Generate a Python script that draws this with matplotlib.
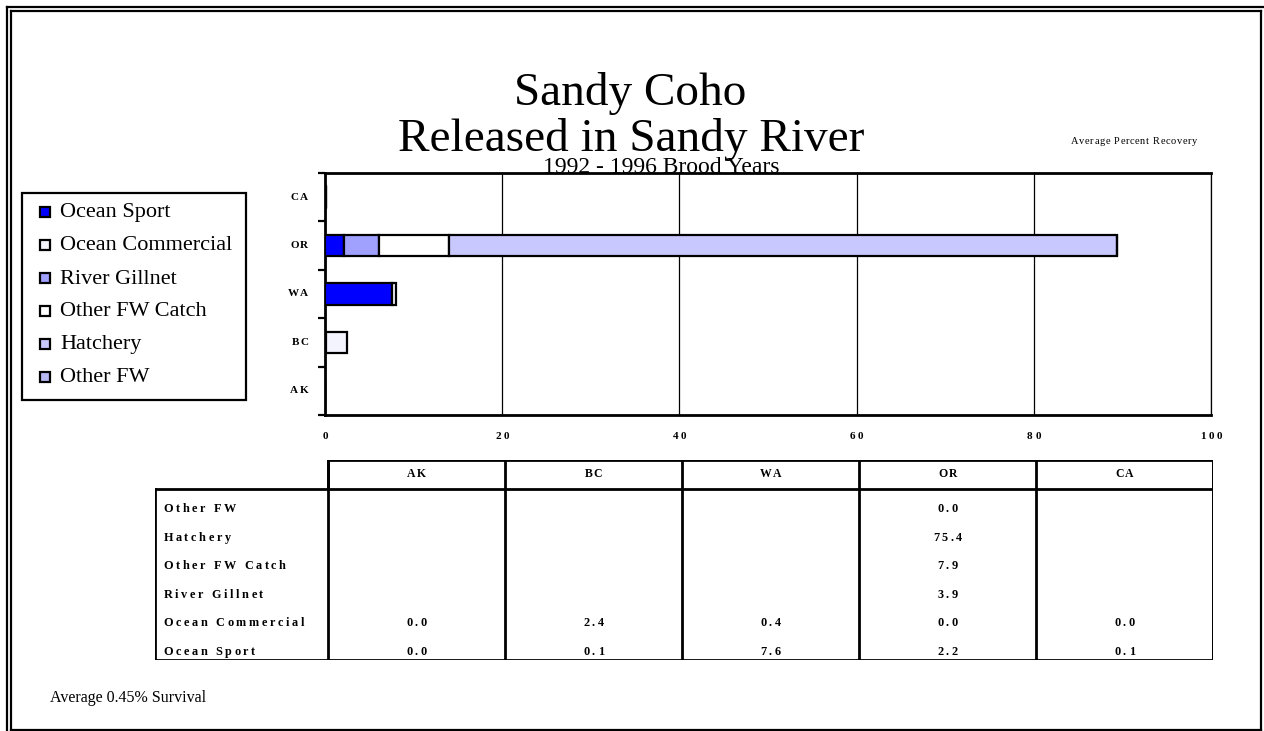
import numpy as np
import matplotlib.pyplot as plt
from matplotlib.lines import Line2D
from matplotlib.patches import Rectangle
from matplotlib.transforms import offset_copy
from matplotlib.textpath import TextToPath
from matplotlib.font_manager import FontProperties

plt.rcParams['font.family'] = ['Liberation Serif', 'DejaVu Serif']

# recovery by region (percent), None = no recoveries
regions = ["AK", "BC", "WA", "OR", "CA"]
categories = ["Ocean Sport", "Ocean Commercial", "River Gillnet",
              "Other FW Catch", "Hatchery", "Other FW"]
ocean_sport = [0.0, 0.1, 7.6, 2.2, 0.1]
ocean_commercial = [0.0, 2.4, 0.4, 0.0, 0.0]
river_gillnet = [None, None, None, 3.9, None]
other_fw_catch = [None, None, None, 7.9, None]
hatchery = [None, None, None, 75.4, None]
other_fw = [None, None, None, 0.0, None]
series = [ocean_sport, ocean_commercial, river_gillnet,
          other_fw_catch, hatchery, other_fw]
colors = ["#0000ff", "#f4f4ff", "#a0a0ff", "#ffffff", "#c8c8ff", "#b8b8f4"]
xticks = [0, 20, 40, 60, 80, 100]

W, H = 1264, 731
fig = plt.figure(figsize=(W / 100, H / 100), dpi=100)

def fx(px):
    return px / W

def fy(py):
    return 1 - py / H

t2p = TextToPath()

def spaced(ax, x, y, s, size, track, ha="left", bold=True, transform=None):
    """letter-spaced text, track = extra gap between chars in points"""
    prop = FontProperties(family="Liberation Serif", size=size,
                          weight="bold" if bold else "normal")
    widths = []
    for ch in s:
        if ch == " ":
            w = t2p.get_text_width_height_descent("a a", prop, ismath=False)[0] - \
                t2p.get_text_width_height_descent("aa", prop, ismath=False)[0]
        else:
            w = t2p.get_text_width_height_descent(ch, prop, ismath=False)[0]
        widths.append(w)
    total = sum(widths) + track * (len(s) - 1)
    start = {"left": 0, "center": -total / 2, "right": -total}[ha]
    base = transform if transform is not None else ax.transData
    off = start
    for ch, w in zip(s, widths):
        tr = offset_copy(base, fig=fig, x=off, y=0, units="points")
        ax.text(x, y, ch, transform=tr, ha="left", va="center",
                fontproperties=prop)
        off += w + track

# page frame
for xs, ys in [([7, 1264], [7, 7]), ([7, 7], [7, 731]),
               ([11, 1261], [11, 11]), ([11, 11], [11, 730]),
               ([1261, 1261], [11, 730]), ([11, 1261], [730, 730])]:
    fig.add_artist(Line2D([fx(x) for x in xs], [fy(y) for y in ys],
                          color="black", lw=1.6))

# titles
fig.text(fx(630), fy(105), "Sandy Coho", ha="center", va="baseline", fontsize=34)
fig.text(fx(631), fy(151), "Released in Sandy River", ha="center", va="baseline", fontsize=34)
fig.text(fx(661), fy(173), "1992 - 1996 Brood Years", ha="center", va="baseline",
         fontsize=17)
fig.text(fx(50), fy(702), "Average 0.45% Survival", ha="left", va="baseline", fontsize=11.5)

# stacked bar chart
ax = fig.add_axes([fx(325), fy(415), fx(1211 - 325), (415 - 173) / H])
y = np.arange(len(regions))
left = np.zeros(len(regions))
for name, vals, c in zip(categories, series, colors):
    v = np.array([0.0 if x is None else x for x in vals])
    mask = np.array([x is not None for x in vals])
    ax.barh(y[mask], v[mask], left=left[mask], height=0.45, color=c,
            edgecolor="black", linewidth=1.6, zorder=3)
    left += v

ax.set_xlim(0, 100)
ax.set_ylim(-0.5, len(regions) - 0.5)
ax.set_xticks(xticks)
ax.set_xticklabels([])
ax.tick_params(axis="x", length=0)
ax.set_yticks(y)
ax.set_yticklabels([])
ax.tick_params(axis="y", which="major", length=0)
ax.set_yticks(np.arange(-0.5, len(regions)), minor=True)
ax.tick_params(axis="y", which="minor", length=5, width=1.6, direction="out")
ax.grid(axis="x", color="black", lw=0.9, zorder=0)
for s in ["left", "bottom", "top"]:
    ax.spines[s].set_linewidth(2)
ax.spines["right"].set_linewidth(0.9)

# spaced tick labels
for t in xticks:
    tr = offset_copy(ax.get_xaxis_transform(), fig=fig, x=0, y=-15.5, units="points")
    spaced(ax, t, 0, str(t), 8, 2.0, ha="center", transform=tr)
for yi, r in zip(y, regions):
    tr = offset_copy(ax.get_yaxis_transform(), fig=fig, x=-12, y=0, units="points")
    spaced(ax, 0, yi, r, 8, 1.0, ha="right", transform=tr)

# legend box
fig.add_artist(Rectangle((fx(22), fy(400)), fx(246 - 22), (400 - 193) / H,
                         transform=fig.transFigure, facecolor="white",
                         edgecolor="black", lw=1.6))
for k, (name, c) in enumerate(zip(categories, colors)):
    cy = 212 + 33 * k
    fig.add_artist(Rectangle((fx(40), fy(cy + 5)), fx(10), 10 / H,
                             transform=fig.transFigure, facecolor=c,
                             edgecolor="black", lw=1.6))
    fig.text(fx(60), fy(cy + 1), name, ha="left", va="center", fontsize=16)

# average percent recovery label
spaced(ax, fx(1197), fy(142), "Average Percent Recovery", 7.5, 0.45,
       ha="right", bold=False, transform=fig.transFigure)

# data table below the chart
tx = fig.add_axes([fx(155), fy(660), fx(1213 - 155), (660 - 460) / H])
tx.set_xlim(-173 / 177, len(regions))
tx.set_ylim(6, -1)
tx.axis("off")
lw = 2
x0 = -173 / 177
n = len(regions)
tx.plot([x0, n, n, x0, x0], [0, 0, 6, 6, 0], color="black", lw=lw)
tx.plot([0, 0, n, n], [0, -1, -1, 0], color="black", lw=lw)
for i in range(n + 1):
    tx.plot([i, i], [-1, 6], color="black", lw=lw)
for i, r in enumerate(regions):
    spaced(tx, i + 0.5, -0.5, r, 8.5, 1.0, ha="center")

rows = list(reversed(categories))
row_series = list(reversed(series))
for j, (name, vals) in enumerate(zip(rows, row_series)):
    yy = j + 0.72
    spaced(tx, -0.93, yy, name, 8.8, 1.9, ha="left")
    for i, v in enumerate(vals):
        if v is not None:
            spaced(tx, i + 0.5, yy, f"{v:.1f}", 8.8, 1.9, ha="center")

fig.savefig("out.png", dpi=100)
